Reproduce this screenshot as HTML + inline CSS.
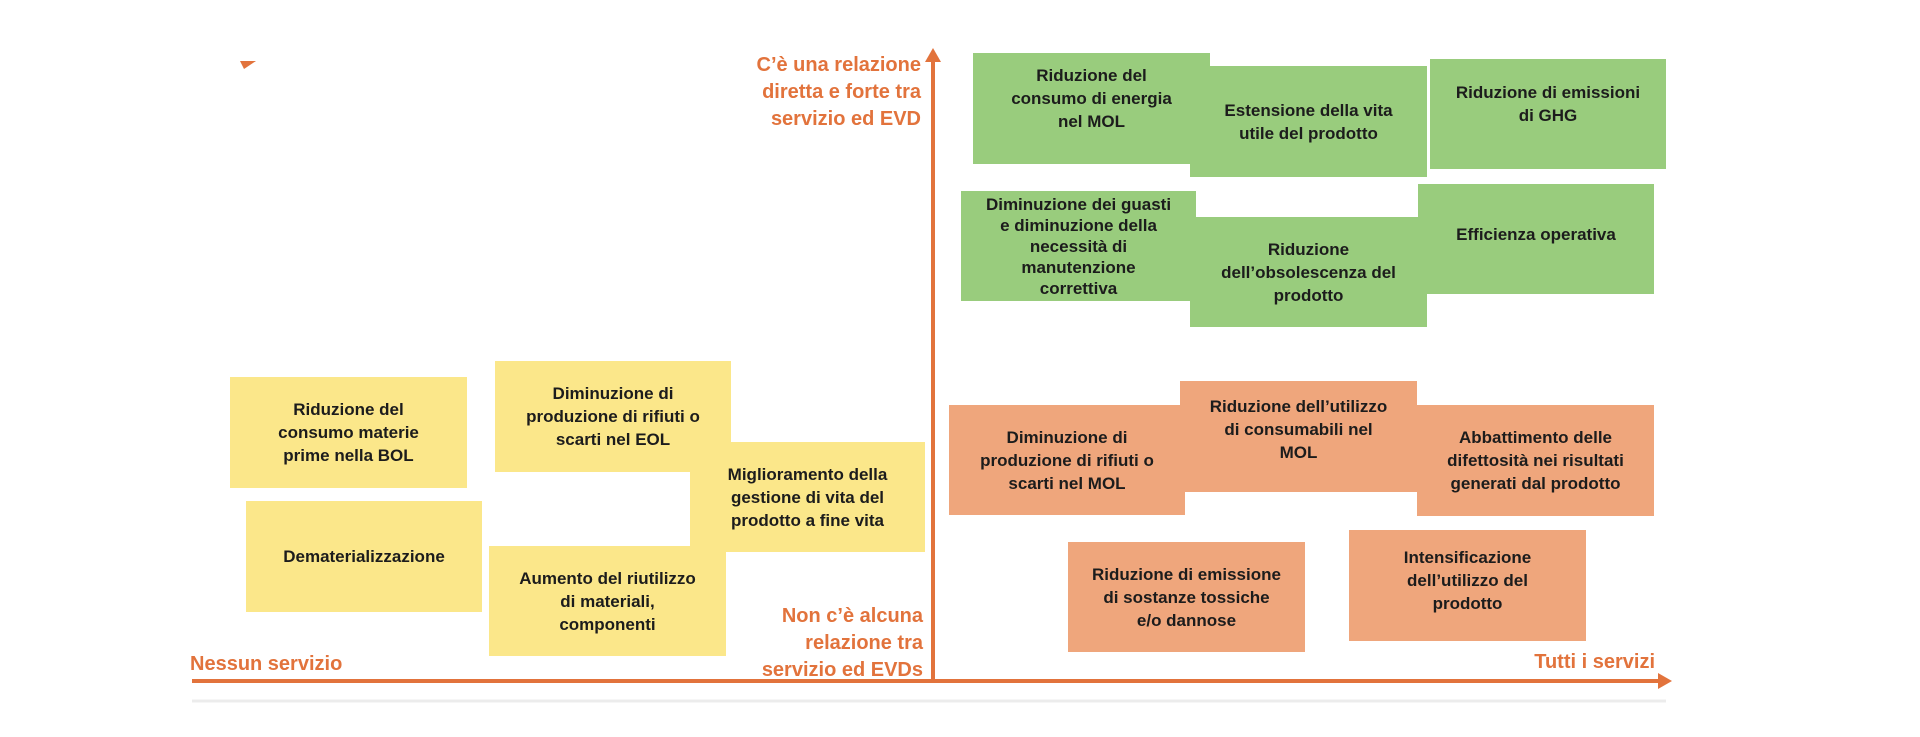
<!DOCTYPE html>
<html><head><meta charset="utf-8"><style>
body{margin:0;width:1920px;height:737px;background:#fff;position:relative;overflow:hidden;font-family:"Liberation Sans",sans-serif}
.b{position:absolute;display:flex;align-items:center;justify-content:center;text-align:center;font-weight:bold;font-size:17px;line-height:23px;color:#1c1c1c;box-sizing:border-box;padding:0 8px}
.g{background:#99cc7d}.y{background:#fbe78a}.o{background:#efa67c}
.t{position:absolute;color:#e2733c;font-weight:bold;font-size:20px;line-height:27px}
</style></head><body>
<svg width="1920" height="737" style="position:absolute;left:0;top:0">
<line x1="192" y1="701" x2="1666" y2="701" stroke="#ececec" stroke-width="3"/>
<line x1="192" y1="681" x2="1660" y2="681" stroke="#e2733c" stroke-width="4"/>
<polygon points="1672,681 1658,673 1658,689" fill="#e2733c"/>
<line x1="933" y1="681" x2="933" y2="60" stroke="#e2733c" stroke-width="4"/>
<polygon points="933,48 925,62 941,62" fill="#e2733c"/>
<polygon points="240,61 256,61 244,69" fill="#e2733c"/>
</svg>
<div class="t" style="right:999px;top:52px;text-align:right">C’è una relazione<br>diretta e forte tra<br>servizio ed EVD</div>
<div class="t" style="right:997px;top:603px;text-align:right">Non c’è alcuna<br>relazione tra<br>servizio ed EVDs</div>
<div class="t" style="left:190px;top:651px">Nessun servizio</div>
<div class="t" style="right:265px;top:649px">Tutti i servizi</div>

<div class="b g" style="left:973px;top:53px;width:237px;height:111px;padding-bottom:20px">Riduzione del<br>consumo di energia<br>nel MOL</div>
<div class="b g" style="left:1190px;top:66px;width:237px;height:111px">Estensione della vita<br>utile del prodotto</div>
<div class="b g" style="left:1430px;top:59px;width:236px;height:110px;padding-bottom:20px">Riduzione di emissioni<br>di GHG</div>
<div class="b g" style="left:961px;top:191px;width:235px;height:110px;line-height:21px">Diminuzione dei guasti<br>e diminuzione della<br>necessità di<br>manutenzione<br>correttiva</div>
<div class="b g" style="left:1190px;top:217px;width:237px;height:110px">Riduzione<br>dell’obsolescenza del<br>prodotto</div>
<div class="b g" style="left:1418px;top:184px;width:236px;height:110px;padding-bottom:10px">Efficienza operativa</div>

<div class="b o" style="left:949px;top:405px;width:236px;height:110px">Diminuzione di<br>produzione di rifiuti o<br>scarti nel MOL</div>
<div class="b o" style="left:1180px;top:381px;width:237px;height:111px;padding-bottom:14px">Riduzione dell’utilizzo<br>di consumabili nel<br>MOL</div>
<div class="b o" style="left:1417px;top:405px;width:237px;height:111px">Abbattimento delle<br>difettosità nei risultati<br>generati dal prodotto</div>
<div class="b o" style="left:1068px;top:542px;width:237px;height:110px">Riduzione di emissione<br>di sostanze tossiche<br>e/o dannose</div>
<div class="b o" style="left:1349px;top:530px;width:237px;height:111px;padding-bottom:10px">Intensificazione<br>dell’utilizzo del<br>prodotto</div>

<div class="b y" style="left:230px;top:377px;width:237px;height:111px">Riduzione del<br>consumo materie<br>prime nella BOL</div>
<div class="b y" style="left:495px;top:361px;width:236px;height:111px">Diminuzione di<br>produzione di rifiuti o<br>scarti nel EOL</div>
<div class="b y" style="left:246px;top:501px;width:236px;height:111px">Dematerializzazione</div>
<div class="b y" style="left:690px;top:442px;width:235px;height:110px">Miglioramento della<br>gestione di vita del<br>prodotto a fine vita</div>
<div class="b y" style="left:489px;top:546px;width:237px;height:110px">Aumento del riutilizzo<br>di materiali,<br>componenti</div>
</body></html>
